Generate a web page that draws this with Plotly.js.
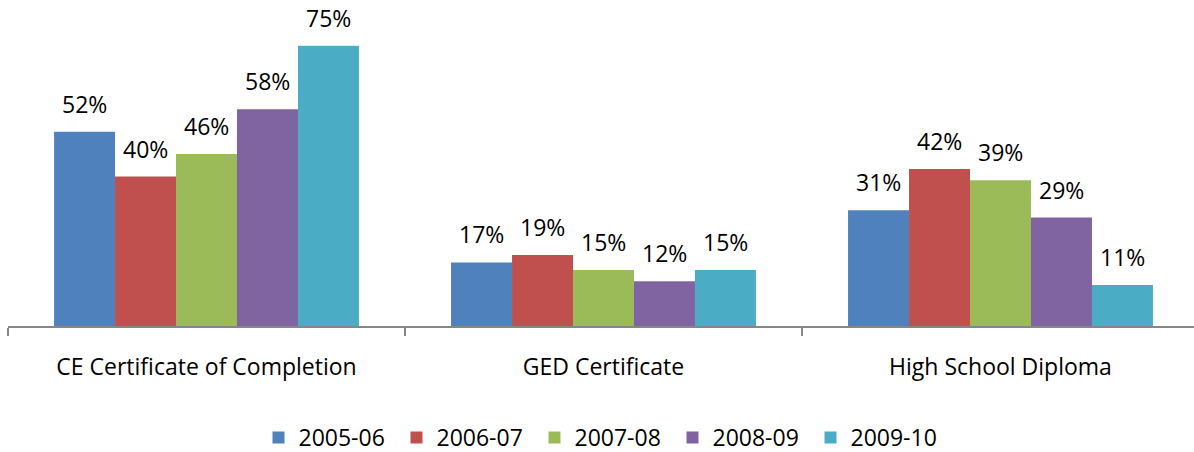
<!DOCTYPE html>
<html>
<head>
<meta charset="utf-8">
<script src="https://cdn.plot.ly/plotly-3.0.1.min.js"></script>
<style>
html,body{margin:0;padding:0;overflow:hidden;background:#fff;}
#chart{width:1200px;height:452px;}
</style>
</head>
<body>
<div id="chart"></div>
<script>
const categories = ["CE Certificate of Completion", "GED Certificate", "High School Diploma"];
const seriesNames = ["2005-06", "2006-07", "2007-08", "2008-09", "2009-10"];
const v2005 = [52, 17, 31];
const v2006 = [40, 19, 42];
const v2007 = [46, 15, 39];
const v2008 = [58, 12, 29];
const v2009 = [75, 15, 11];
const seriesValues = [v2005, v2006, v2007, v2008, v2009];
const colors = ["#4F81BD", "#C0504D", "#9BBB59", "#8064A2", "#4BACC6"];

const FONT = "Open Sans, Liberation Sans, sans-serif";
const bargap = 0.232;
const nS = seriesNames.length;
const bw = (1 - bargap) / nS;

const traces = seriesNames.map((name, i) => ({
  type: "bar",
  name: name,
  x: categories,
  y: seriesValues[i],
  marker: {color: colors[i], line: {width: 0}},
  hoverinfo: "y+name"
}));

const annotations = [];
seriesValues.forEach((vals, i) => {
  vals.forEach((v, c) => {
    annotations.push({
      xref: "x", yref: "y",
      x: c + (i - (nS - 1) / 2) * bw,
      y: v,
      text: v + "%",
      showarrow: false,
      xanchor: "center", yanchor: "bottom",
      yshift: 10,
      font: {family: FONT, size: 23, color: "#000"}
    });
  });
});

const layout = {
  width: 1200, height: 452,
  margin: {l: 8, r: 1, t: 27, b: 126},
  paper_bgcolor: "#fff", plot_bgcolor: "#fff",
  barmode: "group",
  bargap: bargap, bargroupgap: 0,
  showlegend: true,
  legend: {
    orientation: "h", xref: "paper", yref: "container",
    x: 0.5, xanchor: "center", y: 1 - 437.5 / 452, yanchor: "middle",
    font: {family: FONT, size: 23, color: "#000"},
    entrywidthmode: "pixels", entrywidth: 93,
    traceorder: "normal"
  },
  xaxis: {
    type: "category",
    showline: true, linecolor: "#868686", linewidth: 1.5,
    ticks: "outside", tickson: "boundaries", ticklen: 8, tickcolor: "#868686", tickwidth: 1.5,
    ticklabelstandoff: 20,
    tickfont: {family: FONT, size: 23, color: "#000"},
    showgrid: false, zeroline: false, fixedrange: true
  },
  yaxis: {
    range: [0, 80], visible: false, showgrid: false, zeroline: false, fixedrange: true
  },
  annotations: annotations,
  font: {family: FONT}
};

Plotly.newPlot("chart", traces, layout, {displayModeBar: false, staticPlot: true});
</script>
</body>
</html>
